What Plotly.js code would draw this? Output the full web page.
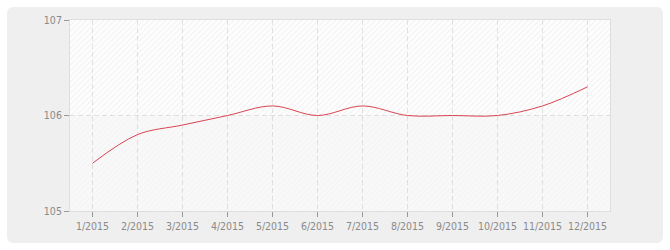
<!DOCTYPE html>
<html><head><meta charset="utf-8">
<script src="https://cdn.plot.ly/plotly-3.0.1.min.js"></script>
<style>
html,body{margin:0;padding:0;background:#fff;}
#panel{position:absolute;left:7px;top:7px;width:656px;height:236px;background:#efefef;border-radius:6px;}
#chart{position:absolute;left:0;top:0;width:670px;height:250px;}
</style></head><body>
<div id="panel"></div>
<div id="chart"></div>
<script>
const months = ["1/2015","2/2015","3/2015","4/2015","5/2015","6/2015","7/2015","8/2015","9/2015","10/2015","11/2015","12/2015"];
const values = [105.5,105.8,105.9,106.0,106.1,106.0,106.1,106.0,106.0,106.0,106.1,106.3];
const yTicks = [105,106,107];

const idx = months.map((_,i)=>i);
const xr = [-0.5, months.length-0.5];

const traces = [
  {x:[xr[0],xr[1],xr[1],xr[0],xr[0]], y:[106,106,107,107,106], mode:'none', fill:'toself',
   fillcolor:'rgba(0,0,0,0)', fillpattern:{shape:'/', fgcolor:'rgba(0,0,0,0.07)', bgcolor:'rgba(0,0,0,0)', size:4, solidity:0.2},
   hoverinfo:'skip', showlegend:false},
  {x:[xr[0],xr[1],xr[1],xr[0],xr[0]], y:[105,105,106,106,105], mode:'none', fill:'toself',
   fillcolor:'rgba(0,0,0,0.02)', fillpattern:{shape:'/', fgcolor:'rgba(0,0,0,0.025)', bgcolor:'rgba(0,0,0,0.02)', size:4, solidity:0.2},
   hoverinfo:'skip', showlegend:false},
  {x:idx, y:values, mode:'lines', line:{color:'#d94452', width:1, shape:'spline', smoothing:1},
   showlegend:false}
];

const layout = {
  width:670, height:250,
  margin:{l:70, r:60, t:20, b:39},
  paper_bgcolor:'rgba(0,0,0,0)', plot_bgcolor:'#fdfdfd',
  font:{family:'DejaVu Sans Condensed, DejaVu Sans, sans-serif', size:10.5, color:'#8a8a8a'},
  xaxis:{range:xr, tickvals:idx, ticktext:months, tickangle:0, showgrid:true, gridcolor:'#e3e3e3', griddash:'5px,3px', gridwidth:1,
    ticks:'outside', ticklen:5, tickcolor:'#999', showline:true, linecolor:'#dedede', mirror:true, zeroline:false, fixedrange:true},
  yaxis:{range:[105,107], tickvals:yTicks, ticktext:yTicks.map(String), showgrid:true, gridcolor:'#e3e3e3', griddash:'5px,3px',
    ticks:'outside', ticklen:5, tickcolor:'#999', showline:true, linecolor:'#dedede', mirror:true, zeroline:false, fixedrange:true},
  showlegend:false
};
Plotly.newPlot('chart', traces, layout, {displayModeBar:false, staticPlot:true});
</script>
</body></html>
